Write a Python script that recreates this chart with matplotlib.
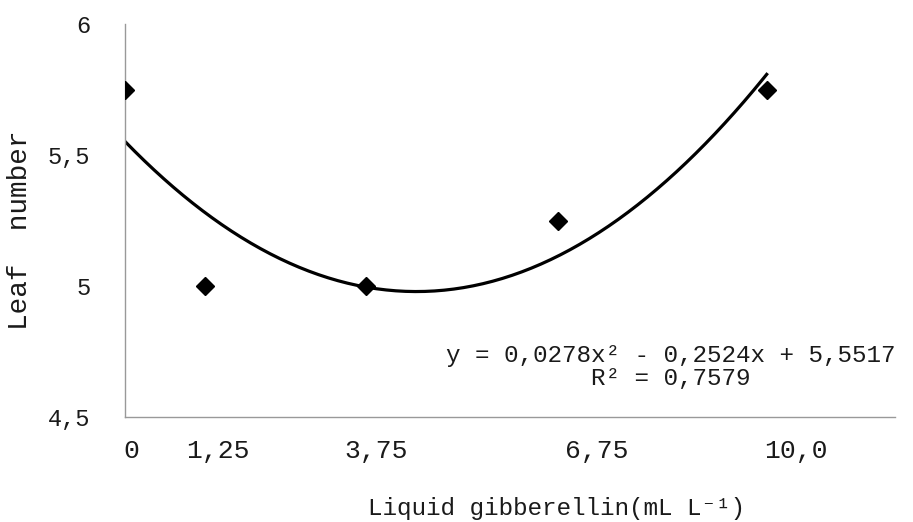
import matplotlib
matplotlib.use("Agg")
import matplotlib.pyplot as plt
import numpy as np

plt.rcParams['font.family'] = ['Liberation Mono', 'DejaVu Sans Mono']

# doses de giberelina e numero de folhas
dose = [0, 1.25, 3.75, 6.75, 10.0]
folhas = [5.75, 5.0, 5.0, 5.25, 5.75]
rotulos = ['0', '1,25', '3,75', '6,75', '10,0']
pos_rotulos = [0.1, 1.45, 3.92, 7.35, 10.45]
y_ticks = [4.5, 5, 5.5, 6]
y_rotulos = ['4,5', '5', '5,5', '6']

# coeficientes da regressao quadratica (a x^2 + b x + c)
coef = [0.0278, -0.2524, 5.5517]
r2 = 0.7579

fig = plt.figure(figsize=(9.13, 5.22), dpi=100)
ax = fig.add_axes([125/913, 1 - 417/522, 770/913, 393/522])

ax.plot(dose, folhas, 'D', color='black', markersize=9.5, zorder=3)

xx = np.linspace(0, 10, 200)
ax.plot(xx, np.polyval(coef, xx), color='black', lw=2.3)

ax.set_xlim(0, 12)
ax.set_ylim(4.5, 6)
ax.set_yticks(y_ticks)
ax.set_yticklabels(y_rotulos, fontsize=17, color='#1a1a1a')
ax.set_xticks(pos_rotulos)
ax.set_xticklabels(rotulos, fontsize=19, color='#1a1a1a')
ax.tick_params(length=0, pad=16)
ax.tick_params(axis='y', pad=25)

for s in ['top', 'right']:
    ax.spines[s].set_visible(False)
for s in ['left', 'bottom']:
    ax.spines[s].set_color('#999999')
    ax.spines[s].set_linewidth(1)

eq = "y = 0,0278x² - 0,2524x + 5,5517\nR² = {}".format(str(r2).replace('.', ','))
fig.text(671/913, 1 - 367/522, eq, ha='center', va='center', fontsize=17.5,
         color='#1a1a1a', linespacing=1.0)

fig.text(557/913, 1 - 508/522, "Liquid gibberellin(mL L⁻¹)", ha='center',
         va='center', fontsize=17.5, color='#1a1a1a')
fig.text(20/913, 1 - 230/522, "Leaf  number", rotation=90, ha='center',
         va='center', fontsize=20, color='#1a1a1a')

fig.savefig("out.png", dpi=100)
